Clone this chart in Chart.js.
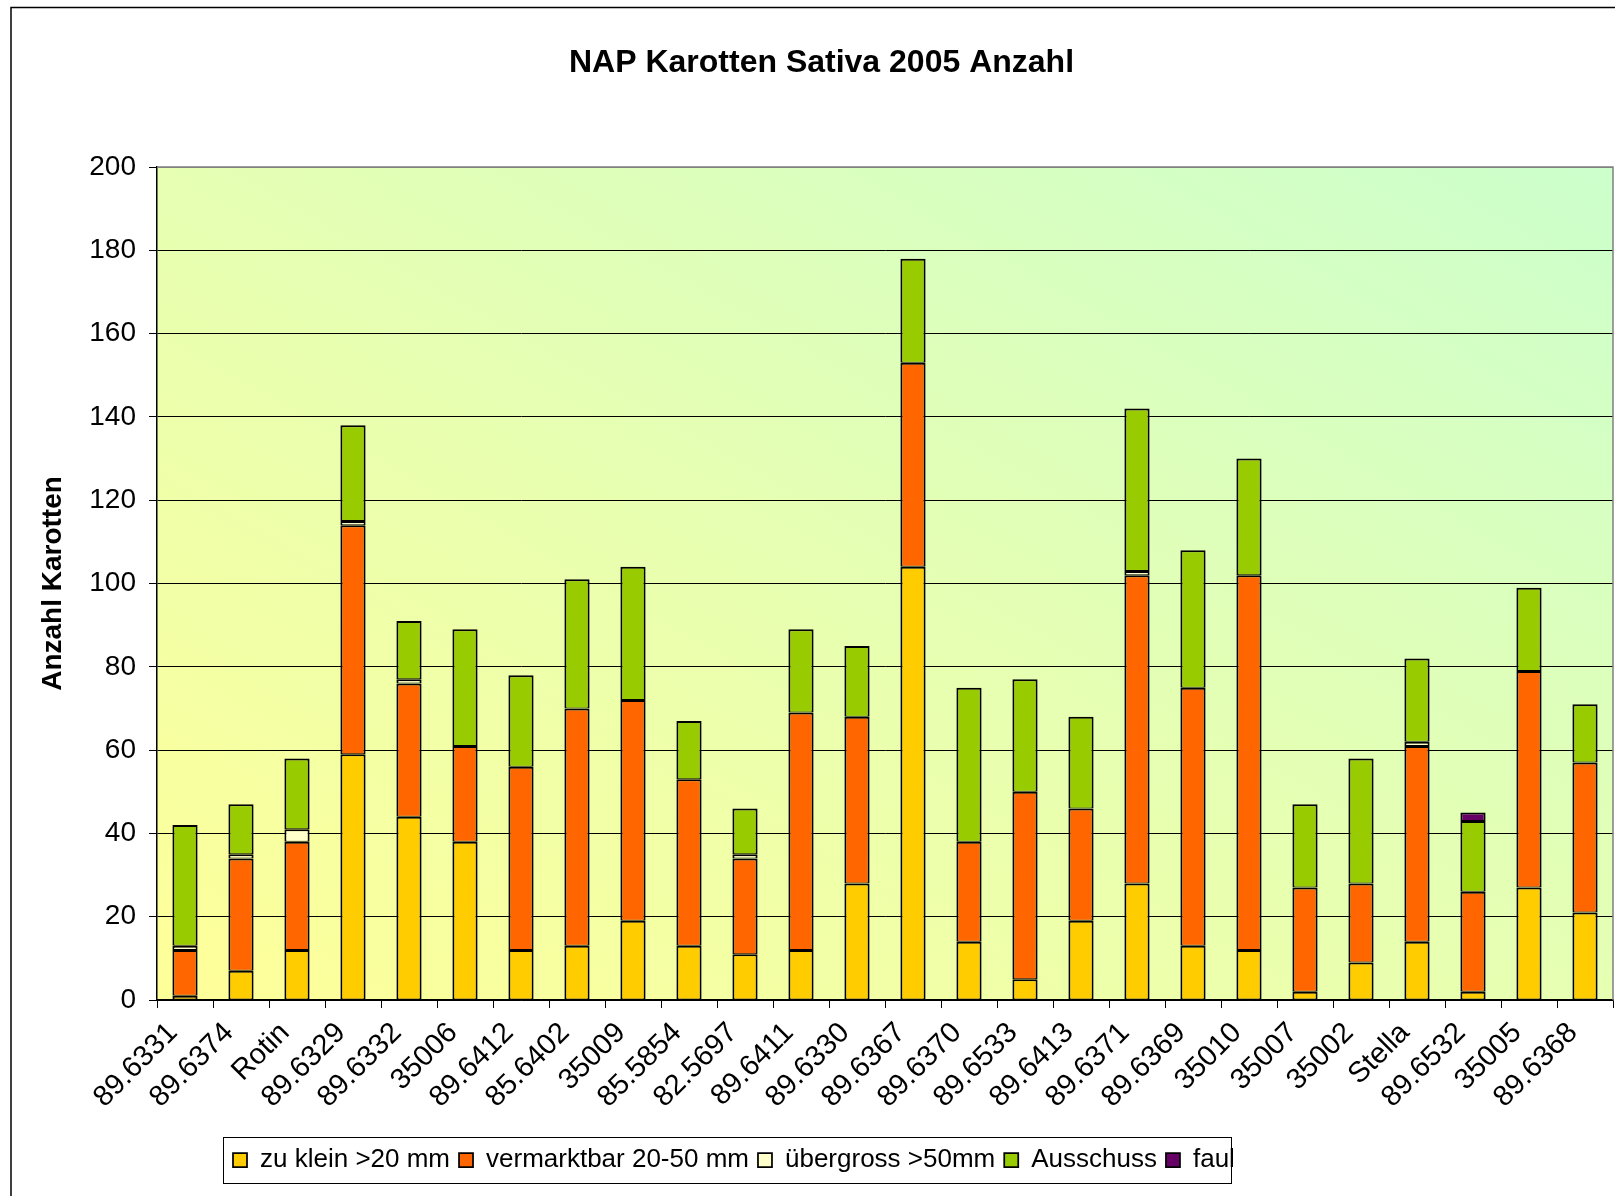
<!DOCTYPE html>
<html>
<head>
<meta charset="utf-8">
<script src="https://cdn.jsdelivr.net/npm/chart.js@4/dist/chart.umd.min.js"></script>
<style>
html,body{margin:0;padding:0;background:#fff;}
#wrap{width:1615px;height:1196px;position:relative;}
</style>
</head>
<body>
<div id="wrap"><canvas id="c" width="1615" height="1196"></canvas></div>
<script>
// ---- data ----
const categories = ['89.6331','89.6374','Rotin','89.6329','89.6332','35006','89.6412','85.6402','35009','85.5854','82.5697','89.6411','89.6330','89.6367','89.6370','89.6533','89.6413','89.6371','89.6369','35010','35007','35002','Stella','89.6532','35005','89.6368'];
const zuKlein     = [1,7,12,59,44,38,12,13,19,13,11,12,28,104,14,5,19,28,13,12,2,9,14,2,27,21];
const vermarktbar = [11,27,26,55,32,23,44,57,53,40,23,57,40,49,24,45,27,74,62,90,25,19,47,24,52,36];
const uebergross  = [1,1,3,1,1,0,0,0,0,0,1,0,0,0,0,0,0,1,0,0,0,0,1,0,0,0];
const ausschuss   = [29,12,17,23,14,28,22,31,32,14,11,20,17,25,37,27,22,39,33,28,20,30,20,17,20,14];
const faul        = [0,0,0,0,0,0,0,0,0,0,0,0,0,0,0,0,0,0,0,0,0,0,0,2,0,0];
const seriesNames = ['zu klein >20 mm','vermarktbar 20-50 mm','übergross >50mm','Ausschuss','faul'];
const seriesColors = ['#FFCC00','#FF6600','#FFFFCC','#99CC00','#660066'];
const yMin = 0, yMax = 200, yStep = 20;
const chartTitle = 'NAP Karotten Sativa 2005 Anzahl';
const yTitle = 'Anzahl Karotten';

const FONT = "'Liberation Sans', Arial, sans-serif";
const seriesValues = [zuKlein, vermarktbar, uebergross, ausschuss, faul];

const datasets = seriesValues.map((vals, i) => ({
  label: seriesNames[i],
  data: vals.map(v => v === 0 ? null : v),
  backgroundColor: seriesColors[i],
  borderColor: '#000',
  borderWidth: { top: 2, bottom: 1, left: 2, right: 2 },
  borderSkipped: false,
  barPercentage: 0.45,
  categoryPercentage: 1.0,
  stack: 's'
}));

const decor = {
  id: 'decor',
  afterUpdate(chart) {
    const lg = chart.legend;
    if (lg && lg.legendHitBoxes && lg.legendHitBoxes.length) {
      const hb = lg.legendHitBoxes[0];
      const dx = 233 - hb.left;
      const dy = 1147 - hb.top;
      lg.left += dx; lg.right += dx;
      lg.top += dy; lg.bottom += dy;
      lg.legendHitBoxes.forEach(b => { b.left += dx; b.top += dy; });
    }
    const t = chart.titleBlock;
    if (t) { t.left += 15; t.right += 15; }
  },
  beforeDraw(chart) {
    const {ctx, chartArea: a} = chart;
    ctx.save();
    ctx.fillStyle = '#fff';
    ctx.fillRect(0, 0, chart.width, chart.height);
    ctx.strokeStyle = '#000';
    ctx.lineWidth = 1.5;
    ctx.beginPath();
    ctx.moveTo(11, chart.height + 5);
    ctx.lineTo(11, 7.5);
    ctx.lineTo(chart.width + 5, 7.5);
    ctx.stroke();
    ctx.translate(a.left, a.top);
    ctx.scale(a.right - a.left, a.bottom - a.top);
    const g = ctx.createLinearGradient(0, 1, 1, 0);
    g.addColorStop(0, '#FFFF99');
    g.addColorStop(1, '#CCFFCC');
    ctx.fillStyle = g;
    ctx.fillRect(0, 0, 1, 1);
    ctx.restore();
  },
  beforeDatasetsDraw(chart) {
    const {ctx, chartArea: a} = chart;
    ctx.save();
    ctx.strokeStyle = '#808080';
    ctx.lineWidth = 1.5;
    ctx.beginPath();
    ctx.moveTo(a.left, a.top);
    ctx.lineTo(a.right, a.top);
    ctx.lineTo(a.right, a.bottom);
    ctx.stroke();
    ctx.restore();
  },
  afterDraw(chart) {
    const lg = chart.legend;
    if (!lg || !lg.legendHitBoxes || !lg.legendHitBoxes.length) return;
    const hbs = lg.legendHitBoxes;
    const first = hbs[0], last = hbs[hbs.length - 1];
    const ctx = chart.ctx;
    ctx.save();
    ctx.strokeStyle = '#000';
    ctx.lineWidth = 1;
    const cy = first.top + first.height / 2;
    ctx.strokeRect(Math.round(first.left - 10) + 0.5, Math.round(cy - 23) + 0.5,
                   Math.round(last.left + last.width - first.left + 6), 46);
    ctx.restore();
  }
};

new Chart(document.getElementById('c'), {
  type: 'bar',
  data: { labels: categories, datasets: datasets },
  plugins: [decor],
  options: {
    responsive: false,
    animation: false,
    devicePixelRatio: 1,
    layout: { padding: { left: 0, right: 2, top: 0, bottom: 12 } },
    plugins: {
      title: {
        display: true,
        text: chartTitle,
        color: '#000',
        font: { family: FONT, size: 32, weight: 'bold' },
        padding: { top: 44, bottom: 84.6 }
      },
      legend: {
        display: true,
        position: 'bottom',
        labels: {
          color: '#000',
          font: { family: FONT, size: 26 },
          boxWidth: 14,
          boxHeight: 14,
          padding: 9
        }
      },
      tooltip: { enabled: false }
    },
    scales: {
      x: {
        stacked: true,
        offset: true,
        grid: { offset: true, drawOnChartArea: false, drawTicks: true, tickLength: 8, color: '#000' },
        border: { display: true, color: '#000', width: 1.5 },
        ticks: {
          autoSkip: false, minRotation: 45, maxRotation: 45,
          color: '#000', padding: 8, labelOffset: -12,
          font: { family: FONT, size: 29 }
        },
        afterFit(scale) { scale.height = 139; scale.paddingRight = 0; scale.paddingLeft = 0; }
      },
      y: {
        stacked: true,
        min: yMin, max: yMax,
        grid: {
          color: (c) => (c.tick && c.tick.value === yMax) ? '#808080' : '#000',
          tickColor: '#000',
          tickLength: 8,
          lineWidth: 1
        },
        border: { display: true, color: '#000', width: 1.5 },
        ticks: { stepSize: yStep, color: '#000', padding: 13, font: { family: FONT, size: 28 } },
        title: {
          display: true,
          text: yTitle,
          color: '#000',
          font: { family: FONT, size: 28, weight: 'bold' },
          padding: { top: 36, bottom: 0 }
        },
        afterFit(scale) { scale.width = 157; }
      }
    }
  }
});
</script>
</body>
</html>
